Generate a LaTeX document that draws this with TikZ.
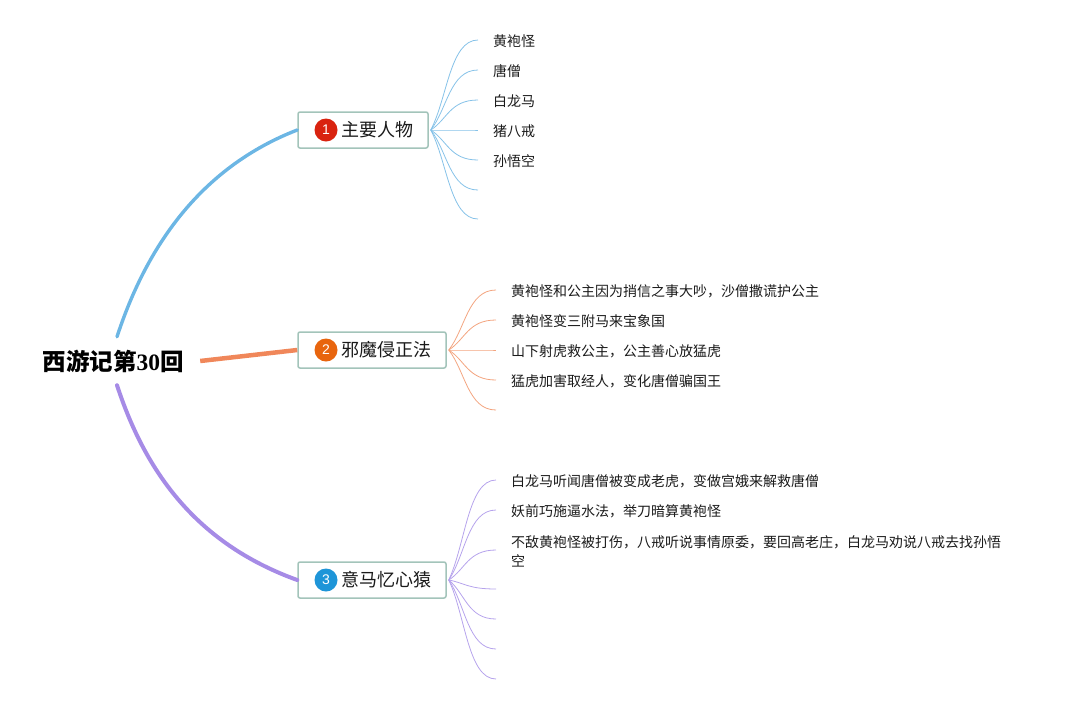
\documentclass[tikz,border=0pt]{standalone}
\usepackage{fontspec}
\setmainfont{Noto Sans CJK SC}
\newfontfamily\digitfont{Liberation Serif}
\newfontfamily\numfont{Liberation Sans}
\usetikzlibrary{calc}
\definecolor{bblue}{HTML}{6CB6E4}
\definecolor{borange}{HTML}{F0875A}
\definecolor{bpurple}{HTML}{A68BE6}
\definecolor{sblue}{HTML}{86C2E8}
\definecolor{sorange}{HTML}{F3A47F}
\definecolor{spurple}{HTML}{B6A3EC}
\definecolor{boxline}{HTML}{A3C4BA}
\definecolor{nred}{HTML}{D9230F}
\definecolor{norange}{HTML}{E8650E}
\definecolor{nblue}{HTML}{1E95D8}
\definecolor{txt}{HTML}{1A1A1A}
\newcommand\subbr[3]{\draw[#1] (#2) .. controls ($(#2)!0.35!(#3)$) and ($(#3)+(-28,0)$) .. (#3);}
\begin{document}
\begin{tikzpicture}[x=1pt,y=-1pt,
  topbox/.style={draw=boxline,line width=1.5pt,rounded corners=2pt,fill=white,minimum height=36pt,inner sep=0pt},
  numc/.style={circle,fill=#1,minimum size=23pt,inner sep=0pt,text=white,font=\numfont\fontsize{14}{14}\selectfont},
  toplabel/.style={anchor=west,inner sep=0pt,text=txt,font=\fontsize{18}{18}\selectfont},
  item/.style={anchor=west,inner sep=0pt,text=txt,font=\fontsize{14}{19}\selectfont,align=left},
  mainb/.style={line width=#1,line cap=round},
  subb/.style={line width=0.8pt,draw=#1}]
\useasboundingbox (0,0) rectangle (1071,705);

% root
\node[inner sep=0pt,minimum width=174pt,minimum height=48pt,font=\fontsize{23.5}{23.5}\selectfont\bfseries] (root) at (113,361) {西游记第{\digitfont\bfseries 30}回};

% topic boxes
\node[topbox,minimum width=130pt] (b1) at (363,130) {};
\node[topbox,minimum width=148pt] (b2) at (372,350) {};
\node[topbox,minimum width=148pt] (b3) at (372,580) {};
\node[numc=nred] (n1) at (326,130) {1};
\node[numc=norange] (n2) at (326,350) {2};
\node[numc=nblue] (n3) at (326,580) {3};
\node[toplabel] (l1) at (341,130) {主要人物};
\node[toplabel] (l2) at (341,350) {邪魔侵正法};
\node[toplabel] (l3) at (341,580) {意马忆心猿};

% main branches
\coordinate (rb) at ($(root.north)+(4,0)$);
\coordinate (rp) at ($(root.south)+(4,0)$);
\draw[mainb=3.4pt,draw=bblue] (rb) .. controls +(31,-95) and +(-93,36) .. (b1.west);
\draw[mainb=4.5pt,draw=borange,line cap=butt] (root.east) -- (b2.west);
\draw[mainb=4pt,draw=bpurple] (rp) .. controls +(31,95) and +(-94,-34) .. (b3.west);

% branch 1
\coordinate (o1) at ($(b1.east)+(2,0)$);
\foreach \i/\y in {1/40,2/70,3/100,4/130,5/160,6/190,7/219}{
  \coordinate (e1\i) at (478,\y);
  \subbr{subb=sblue}{o1}{e1\i}
}
\node[item] (t11) at (493,41) {黄袍怪};
\node[item] (t12) at (493,71) {唐僧};
\node[item] (t13) at (493,101) {白龙马};
\node[item] (t14) at (493,131) {猪八戒};
\node[item] (t15) at (493,161) {孙悟空};

% branch 2
\coordinate (o2) at ($(b2.east)+(2,0)$);
\foreach \i/\y in {1/290,2/320,3/350,4/380,5/410}{
  \coordinate (e2\i) at (496,\y);
  \subbr{subb=sorange}{o2}{e2\i}
}
\node[item] (t21) at (511,291) {黄袍怪和公主因为捎信之事大吵，沙僧撒谎护公主};
\node[item] (t22) at (511,321) {黄袍怪变三附马来宝象国};
\node[item] (t23) at (511,351) {山下射虎救公主，公主善心放猛虎};
\node[item] (t24) at (511,381) {猛虎加害取经人，变化唐僧骗国王};

% branch 3
\coordinate (o3) at ($(b3.east)+(2,0)$);
\foreach \i/\y in {1/480,2/510,3/550,4/589,5/619,6/649,7/679}{
  \coordinate (e3\i) at (496,\y);
  \subbr{subb=spurple}{o3}{e3\i}
}
\node[item] (t31) at (511,481) {白龙马听闻唐僧被变成老虎，变做宫娥来解救唐僧};
\node[item] (t32) at (511,511) {妖前巧施逼水法，举刀暗算黄袍怪};
\node[item] (t33) at (511,551) {不敌黄袍怪被打伤，八戒听说事情原委，要回高老庄，白龙马劝说八戒去找孙悟\\空};
\end{tikzpicture}
\end{document}
